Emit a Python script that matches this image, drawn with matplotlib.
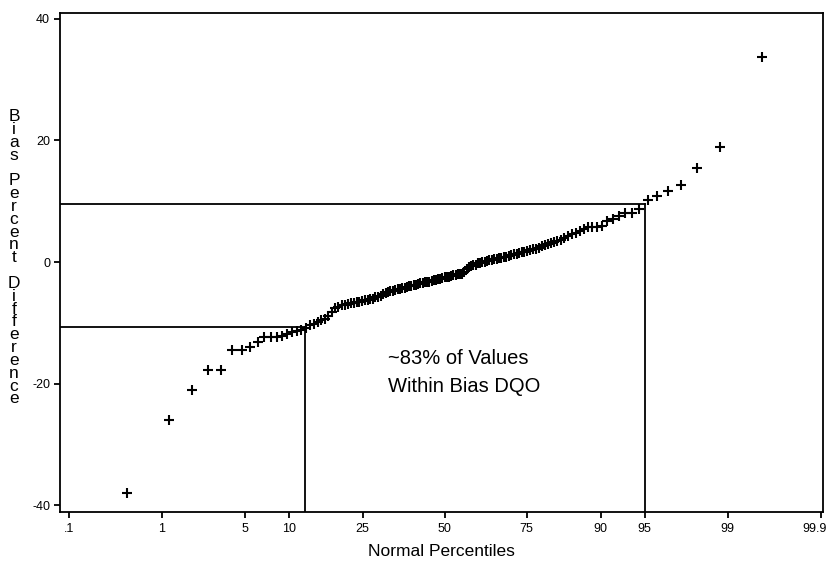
import matplotlib
matplotlib.use("Agg")
import matplotlib.pyplot as plt
import matplotlib.transforms as mtransforms
from statistics import NormalDist

plt.rcParams['font.family'] = ['Liberation Sans', 'DejaVu Sans']

# Sorted bias percent differences (one value per sample)
bias_values = [
    -38.0, -25.9, -21.0, -17.7, -17.7, -14.4, -14.4, -14.0, -13.1, -12.3,
    -12.3, -12.3, -12.1, -11.8, -11.5, -11.4, -11.2, -10.9, -10.4, -10.1,
    -9.9, -9.5, -9.3, -8.9, -8.2, -7.5, -7.3, -7.1, -7.0, -6.9,
    -6.8, -6.7, -6.6, -6.5, -6.4, -6.3, -6.2, -6.1, -6.0, -5.8,
    -5.7, -5.5, -5.3, -5.1, -4.9, -4.8, -4.7, -4.6, -4.5, -4.4,
    -4.3, -4.2, -4.1, -4.0, -3.9, -3.8, -3.7, -3.6, -3.5, -3.4,
    -3.3, -3.2, -3.2, -3.1, -3.0, -2.9, -2.8, -2.7, -2.6, -2.5,
    -2.4, -2.4, -2.3, -2.2, -2.1, -2.0, -1.9, -1.9, -1.7, -1.2,
    -0.8, -0.6, -0.5, -0.4, -0.2, -0.1, 0.0, 0.1, 0.2, 0.3,
    0.4, 0.5, 0.5, 0.6, 0.7, 0.8, 0.9, 1.0, 1.1, 1.3,
    1.4, 1.5, 1.6, 1.7, 1.9, 2.0, 2.1, 2.2, 2.4, 2.6,
    2.8, 2.9, 3.1, 3.3, 3.4, 3.7, 4.0, 4.3, 4.6, 4.8,
    5.1, 5.4, 5.8, 5.8, 5.8, 5.9, 6.7, 7.1, 7.5, 8.0,
    8.0, 8.7, 10.2, 10.8, 11.7, 12.7, 15.4, 19.0, 33.7,
]

# Normal-percentile axis ticks
tick_percentiles = [0.1, 1, 5, 10, 25, 50, 75, 90, 95, 99, 99.9]
tick_labels = ['.1', '1', '5', '10', '25', '50', '75', '90', '95', '99', '99.9']
y_ticks = [-40, -20, 0, 20, 40]

# Bias DQO guide lines: (bias level, percentile where it meets the data)
upper_guide = (9.5, 95.0)
lower_guide = (-10.6, 12.5)

nd = NormalDist()


def pct_to_z(p):
    return nd.inv_cdf(p / 100.0)


# Blom plotting positions
n = len(bias_values)
z_pos = [nd.inv_cdf((i - 0.375) / (n + 0.25)) for i in range(1, n + 1)]

fig = plt.figure(figsize=(8.30, 5.69), dpi=100)
ax = fig.add_axes([0.072, 0.101, 0.9196, 0.8767])

ax.plot(z_pos, bias_values, linestyle='none', marker='+', color='black',
        markersize=6.5, markeredgewidth=1.5, zorder=3)

xmin, xmax = -3.165, 3.111
ymin, ymax = -41.0, 41.0
ax.set_xlim(xmin, xmax)
ax.set_ylim(ymin, ymax)

# Guide lines
for level, pct in (upper_guide, lower_guide):
    zx = pct_to_z(pct)
    ax.plot([xmin, zx], [level, level], color='black', lw=1.3, zorder=2)
    ax.plot([zx, zx], [level, ymin], color='black', lw=1.3, zorder=2)

ax.set_xticks([pct_to_z(p) for p in tick_percentiles])
ax.set_xticklabels(tick_labels)
ax.set_yticks(y_ticks)
ax.set_yticklabels([str(v) for v in y_ticks])
ax.tick_params(axis='both', direction='out', length=4.5, width=1.3,
               labelsize=9, color='black', pad=2.5)
ax.tick_params(axis='x', pad=4)

# keep the last percentile label inside the figure edge
last_lbl = ax.get_xticklabels()[-1]
last_lbl.set_transform(last_lbl.get_transform() +
                       mtransforms.ScaledTranslation(-6 / 100, 0, fig.dpi_scale_trans))

for sp in ax.spines.values():
    sp.set_linewidth(1.3)
    sp.set_color('black')

ax.set_xlabel('Normal Percentiles', fontsize=12.5, labelpad=6)

# Vertically stacked y-axis title
ylabel = 'Bias Percent Difference'
fig.text(0.017, 0.547, '\n'.join(ylabel), fontsize=12.5, ha='center',
         va='center', linespacing=0.82)

ax.text(pct_to_z(32.0), -16.7, '~83% of Values', fontsize=14.5,
        ha='left', va='baseline')
ax.text(pct_to_z(32.0), -21.3, 'Within Bias DQO', fontsize=14.5,
        ha='left', va='baseline')

fig.savefig('out.png', dpi=100)
